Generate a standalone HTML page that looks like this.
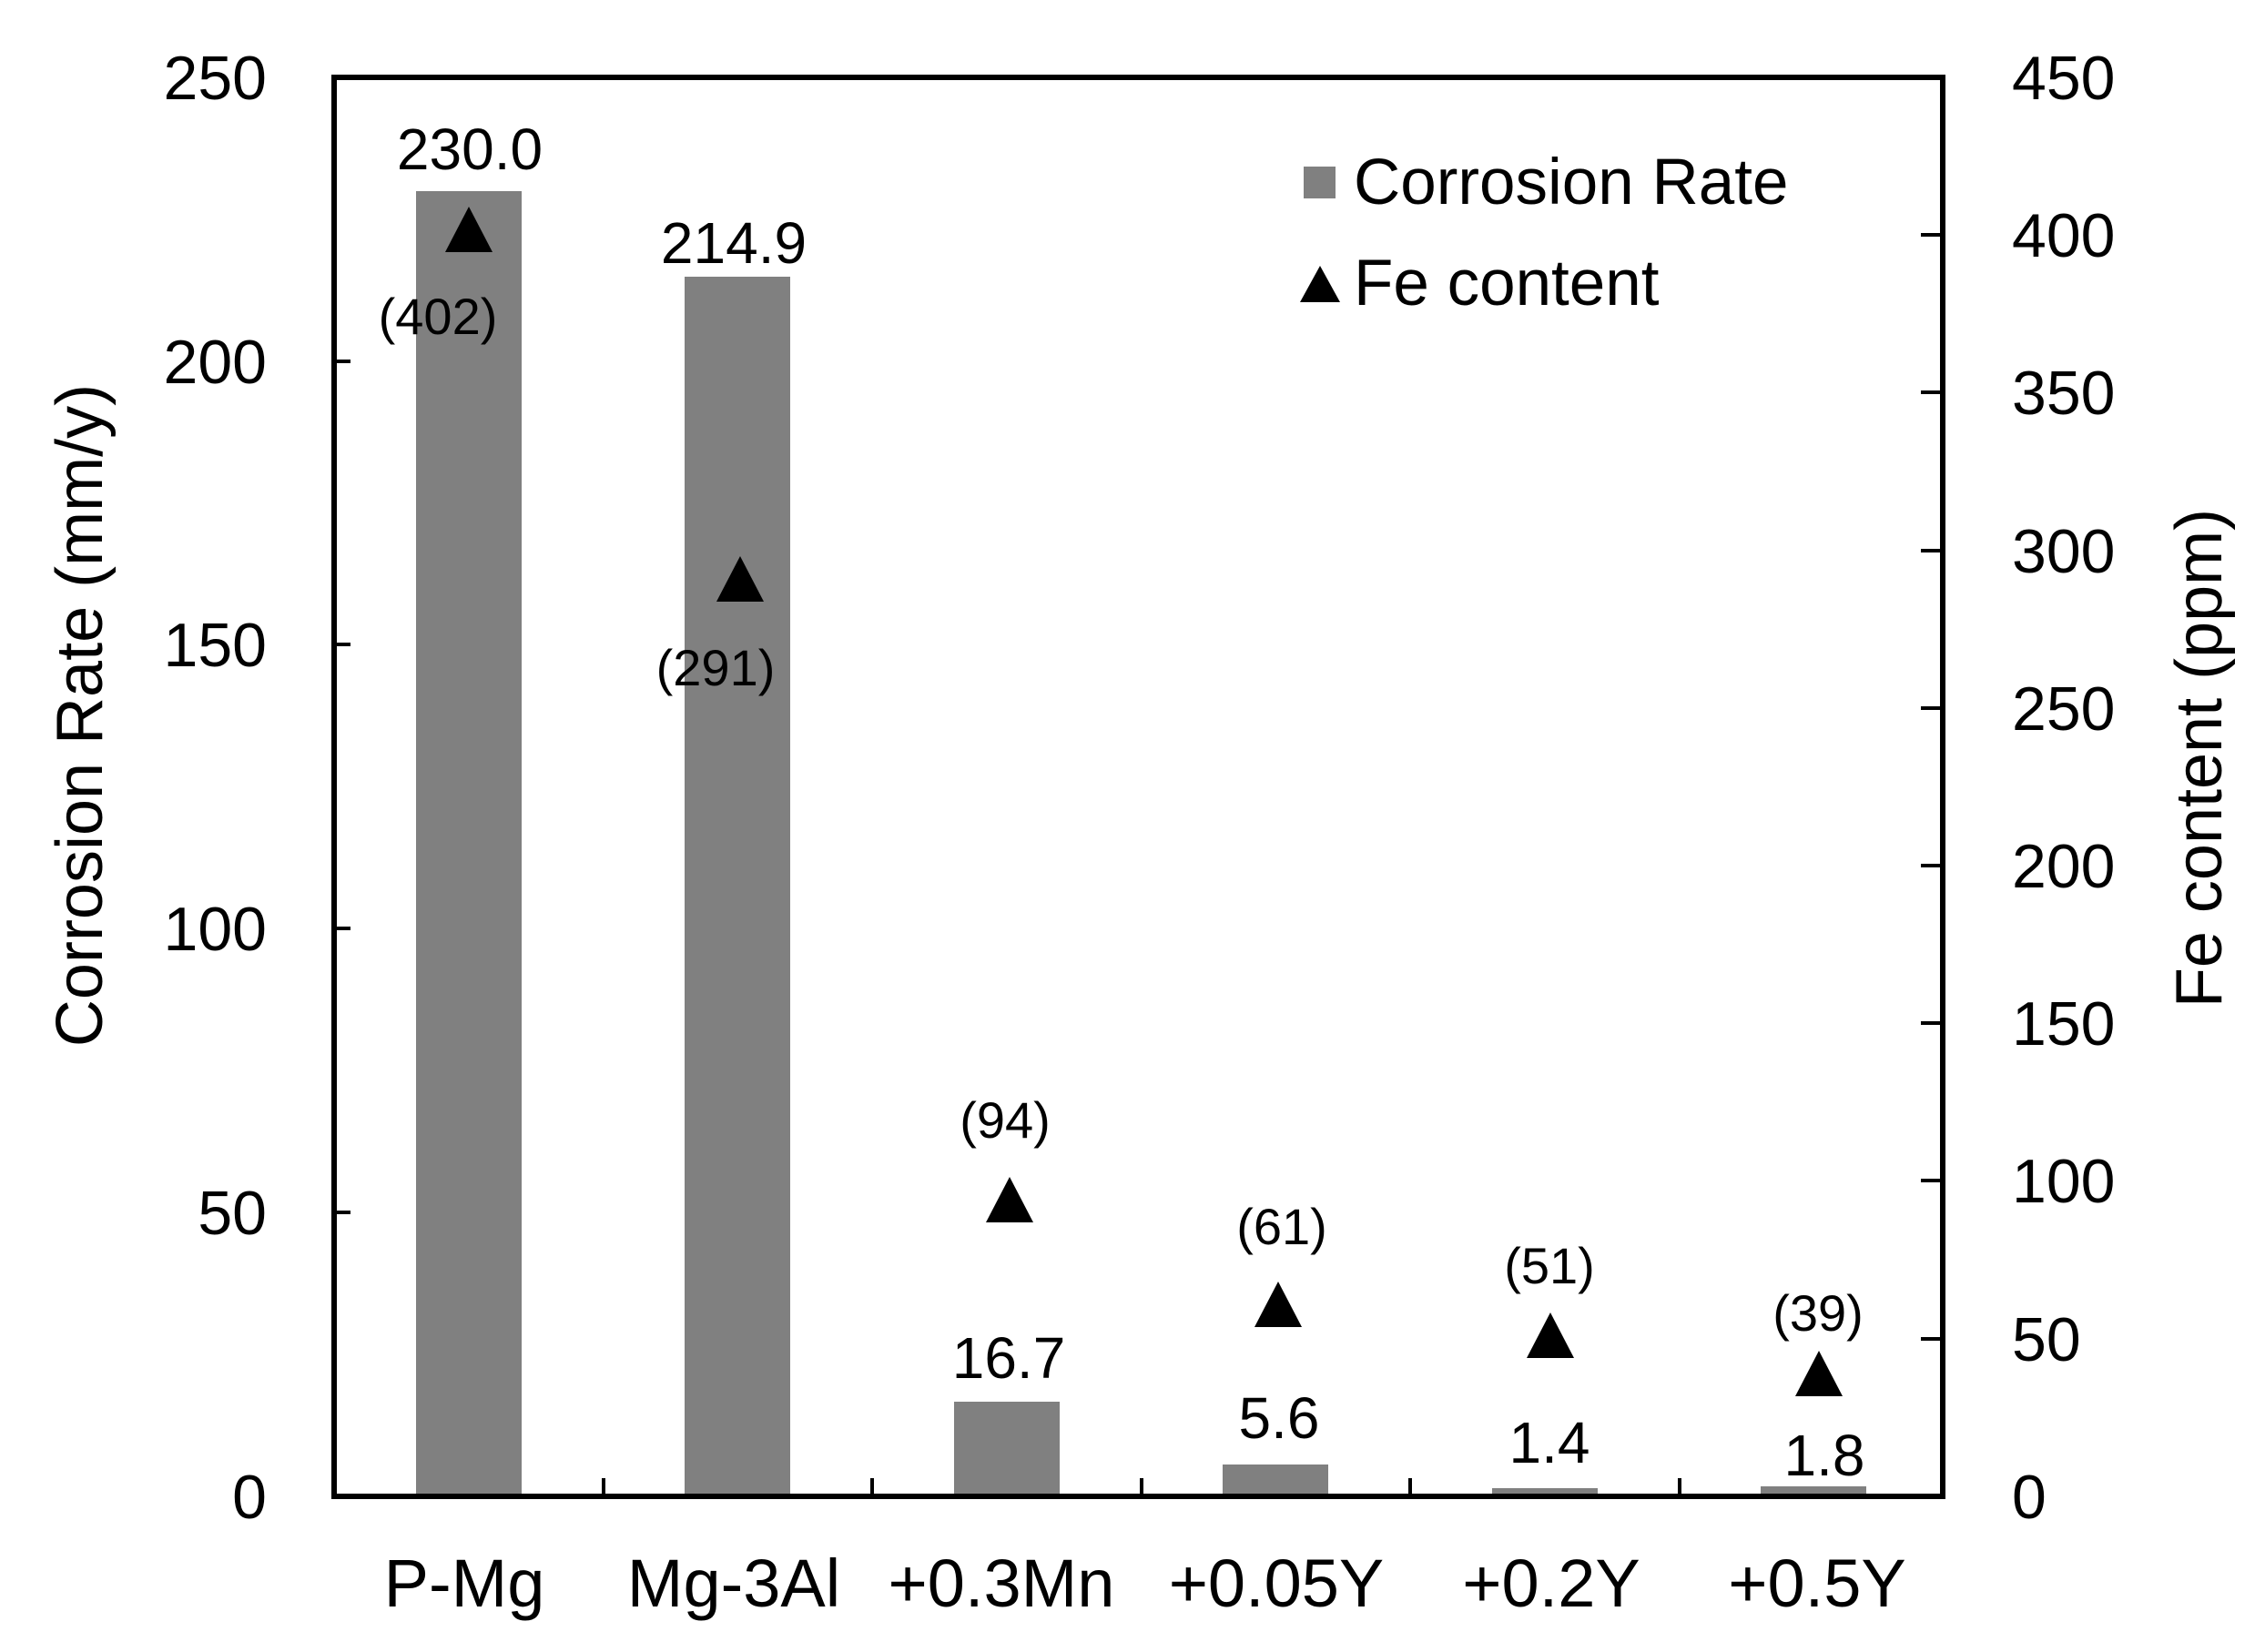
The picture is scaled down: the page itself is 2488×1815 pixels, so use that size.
<!DOCTYPE html>
<html><head><meta charset="utf-8"><style>
html,body{margin:0;padding:0;background:#fff}
svg{display:block}
text{font-family:"Liberation Sans",sans-serif;fill:#000}
</style></head><body>
<svg width="2488" height="1815" viewBox="0 0 2488 1815" xmlns="http://www.w3.org/2000/svg">
<g fill="#808080">
<rect x="457" y="210" width="116" height="1434"/>
<rect x="752" y="304" width="116" height="1340"/>
<rect x="1048" y="1540" width="116" height="104"/>
<rect x="1343" y="1609" width="116" height="35"/>
<rect x="1639" y="1635" width="116" height="9"/>
<rect x="1934" y="1633" width="116" height="11"/>
</g>
<rect x="367" y="85" width="1767" height="1559" fill="none" stroke="#000" stroke-width="6"/>
<g stroke="#000" stroke-width="4">
<line x1="367" y1="1332" x2="385" y2="1332"/>
<line x1="367" y1="1020" x2="385" y2="1020"/>
<line x1="367" y1="708" x2="385" y2="708"/>
<line x1="367" y1="397" x2="385" y2="397"/>
<line x1="2110" y1="1471" x2="2134" y2="1471"/>
<line x1="2110" y1="1297" x2="2134" y2="1297"/>
<line x1="2110" y1="1124" x2="2134" y2="1124"/>
<line x1="2110" y1="951" x2="2134" y2="951"/>
<line x1="2110" y1="778" x2="2134" y2="778"/>
<line x1="2110" y1="605" x2="2134" y2="605"/>
<line x1="2110" y1="431" x2="2134" y2="431"/>
<line x1="2110" y1="258" x2="2134" y2="258"/>
<line x1="663" y1="1644" x2="663" y2="1624"/>
<line x1="958" y1="1644" x2="958" y2="1624"/>
<line x1="1254" y1="1644" x2="1254" y2="1624"/>
<line x1="1549" y1="1644" x2="1549" y2="1624"/>
<line x1="1845" y1="1644" x2="1845" y2="1624"/>
</g>
<g font-size="68" text-anchor="end">
<text x="293" y="1668">0</text>
<text x="293" y="1356">50</text>
<text x="293" y="1044">100</text>
<text x="293" y="732">150</text>
<text x="293" y="421">200</text>
<text x="293" y="109">250</text>
</g>
<g font-size="68" text-anchor="start">
<text x="2210" y="1668">0</text>
<text x="2210" y="1495">50</text>
<text x="2210" y="1321">100</text>
<text x="2210" y="1148">150</text>
<text x="2210" y="975">200</text>
<text x="2210" y="802">250</text>
<text x="2210" y="629">300</text>
<text x="2210" y="455">350</text>
<text x="2210" y="282">400</text>
<text x="2210" y="109">450</text>
</g>
<text font-size="72" text-anchor="middle" transform="translate(112,786) rotate(-90)">Corrosion Rate (mm/y)</text>
<text font-size="72" text-anchor="middle" transform="translate(2440,833) rotate(-90)">Fe content (ppm)</text>
<g font-size="74" text-anchor="middle">
<text x="510" y="1765">P-Mg</text>
<text x="806" y="1765">Mg-3Al</text>
<text x="1100" y="1765">+0.3Mn</text>
<text x="1402" y="1765">+0.05Y</text>
<text x="1704" y="1765">+0.2Y</text>
<text x="1996" y="1765">+0.5Y</text>
</g>
<g font-size="64" text-anchor="middle">
<text x="516" y="186">230.0</text>
<text x="806" y="289">214.9</text>
<text x="1108" y="1514">16.7</text>
<text x="1405" y="1580">5.6</text>
<text x="1702" y="1607">1.4</text>
<text x="2004" y="1621">1.8</text>
</g>
<g fill="#000">
<polygon points="515,227 541,277 489,277"/>
<polygon points="813,611 839,661 787,661"/>
<polygon points="1109,1293 1135,1343 1083,1343"/>
<polygon points="1404,1408 1430,1458 1378,1458"/>
<polygon points="1703,1442 1729,1492 1677,1492"/>
<polygon points="1998,1484 2024,1534 1972,1534"/>
</g>
<g font-size="56" text-anchor="middle">
<text x="481" y="367">(402)</text>
<text x="786" y="753">(291)</text>
<text x="1104" y="1250">(94)</text>
<text x="1408" y="1367">(61)</text>
<text x="1702" y="1410">(51)</text>
<text x="1997" y="1462">(39)</text>
</g>
<rect x="1432" y="183" width="35" height="35" fill="#808080"/>
<text x="1487" y="224" font-size="71">Corrosion Rate</text>
<polygon points="1450,292 1472,332 1428,332" fill="#000"/>
<text x="1487" y="335" font-size="71">Fe content</text>
</svg>
</body></html>
